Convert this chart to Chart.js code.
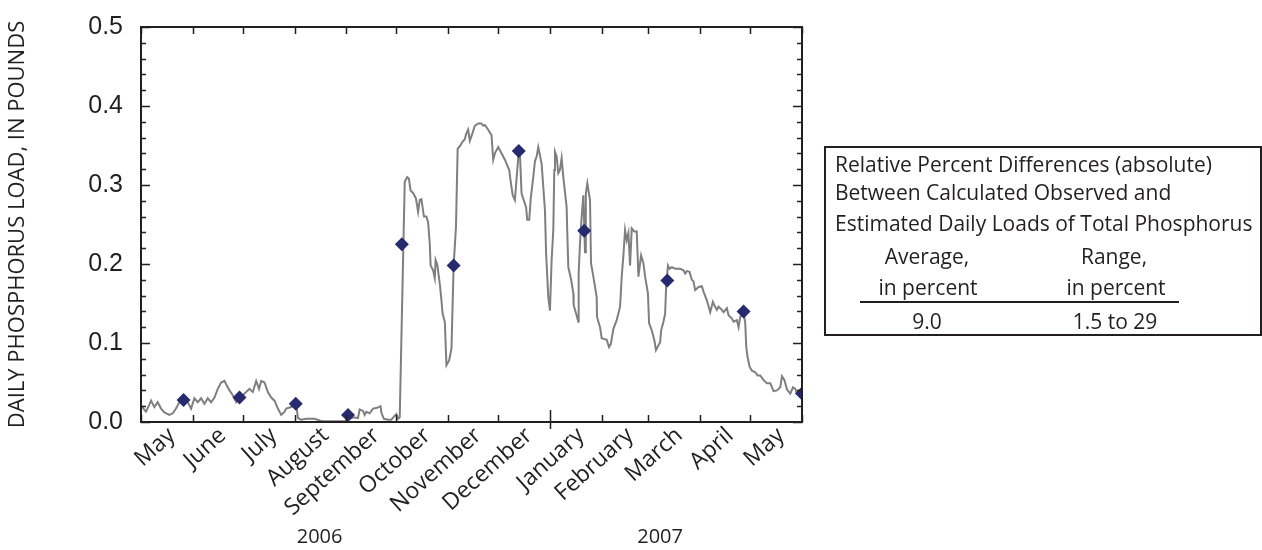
<!DOCTYPE html>
<html>
<head>
<meta charset="utf-8">
<script src="https://cdn.jsdelivr.net/npm/chart.js@4.4.1/dist/chart.umd.min.js"></script>
<style>
  body { margin: 0; background: #fff; }
  #wrap { position: relative; width: 1262px; height: 550px; }
  #note {
    position: absolute; left: 824px; top: 146px; width: 434px; height: 186px;
    border: 2px solid #231f20; font-family: "Open Sans", sans-serif; font-size: 21px; color: #231f20;
  }
  #note div { position: absolute; height: 30px; line-height: 30px; white-space: nowrap; }
  #note .c { transform: translateX(-50%); }
  #note .rule { height: 2px; background: #231f20; }
</style>
</head>
<body>
<div id="wrap">
  <canvas id="loadChart" width="1262" height="550"></canvas>
  <div id="note">
    <div style="left:9px; top:1px">Relative Percent Differences (absolute)</div>
    <div style="left:9px; top:29px">Between Calculated Observed and</div>
    <div style="left:9px; top:60px">Estimated Daily Loads of Total Phosphorus</div>
    <div class="c" style="left:101px; top:93px">Average,</div>
    <div class="c" style="left:288px; top:93px">Range,</div>
    <div class="c" style="left:102px; top:124px">in percent</div>
    <div class="c" style="left:290px; top:124px">in percent</div>
    <div class="rule" style="left:34px; top:153px; width:319px"></div>
    <div class="c" style="left:101px; top:158px">9.0</div>
    <div class="c" style="left:289px; top:158px">1.5 to 29</div>
  </div>
</div>
<script>
// days counted from May 1, 2006
const monthNames = ['May', 'June', 'July', 'August', 'September', 'October', 'November', 'December',
                    'January', 'February', 'March', 'April', 'May'];
const monthStarts = [0, 31, 61, 92, 123, 153, 184, 214, 245, 276, 304, 335, 365, 396];
const yearLabels = ['2006', '2007'];
const yearDays = [107, 311];

// estimated daily load, pounds
const estDays = [0, 1.5, 3, 5, 6, 7, 8, 10, 12, 14, 17, 19, 21, 23, 25, 26, 28, 30, 32, 34, 36, 38, 40, 42, 44,
  46, 48, 50, 51.5, 53, 55, 57, 59, 61, 63, 65, 67, 69, 70.7, 72, 74, 76, 78, 80, 82, 84, 86, 87, 90, 92, 93,
  94, 96, 99, 104, 107, 109, 122, 127, 130, 131, 133, 134, 135, 137, 139, 141.5, 143.5, 144, 145.5, 148, 150,
  152, 153, 154, 155, 158, 159.5, 160.5, 161.5, 163, 164.7, 166, 167, 168, 169.5, 171, 172, 173, 173.5, 175,
  176, 176.5, 177.5, 179, 180, 180.7, 182, 183, 184.6, 186, 187.3, 188.7, 189.7, 191, 192.7, 194, 194.7, 196,
  197, 198.5, 200, 202, 204, 205, 206, 208, 210, 211, 212, 214, 215.5, 218, 220.6, 221.5, 222.7, 224, 226.3,
  227, 228, 230.7, 231.4, 232.6, 233.5, 235, 236, 237, 238, 240, 242, 242.7, 244, 245, 246, 247, 247.6, 248,
  249, 250, 251, 252, 253, 255, 255.4, 256, 257.7, 259, 259.2, 260.7, 262, 262.2, 263, 264, 265, 266, 266.5,
  267.4, 269, 269.6, 271, 273, 273.2, 275, 276, 279, 280.4, 281.5, 283, 285, 287, 288, 289, 290, 291, 292,
  293, 294, 295.6, 297, 298, 299.6, 301, 302, 303.7, 304.4, 306, 307.6, 308.5, 311, 311.6, 313, 314, 314.6,
  315.7, 316.7, 318, 320, 323, 325, 326, 327, 328.6, 330, 331, 332, 334, 336, 337, 339, 341, 342.6, 343.4,
  345, 346, 348, 349, 351, 352, 354, 355, 357, 358, 359, 361, 362, 362.6, 363.4, 364.6, 366, 368, 369.4, 371,
  373, 375, 377, 379, 381, 383, 384, 385.5, 387, 389, 390.6, 392, 393, 395, 396];
const estLoad = [0.021, 0.017, 0.013, 0.022, 0.027, 0.023, 0.019, 0.025, 0.017, 0.012, 0.009, 0.011, 0.017,
  0.025, 0.028, 0.026, 0.025, 0.017, 0.030, 0.025, 0.030, 0.023, 0.030, 0.025, 0.031, 0.042, 0.050, 0.052,
  0.046, 0.040, 0.034, 0.025, 0.030, 0.034, 0.038, 0.042, 0.038, 0.052, 0.042, 0.052, 0.050, 0.038, 0.031,
  0.027, 0.017, 0.009, 0.013, 0.017, 0.019, 0.022, 0.023, 0.005, 0.003, 0.004, 0.004, 0.002, 0.001, 0.001,
  0.006, 0.005, 0.016, 0.014, 0.009, 0.013, 0.011, 0.017, 0.018, 0.020, 0.012, 0.004, 0.003, 0.003, 0.008,
  0.010, 0.004, 0.006, 0.304, 0.310, 0.308, 0.293, 0.290, 0.283, 0.266, 0.281, 0.282, 0.260, 0.260, 0.253,
  0.226, 0.198, 0.192, 0.182, 0.205, 0.199, 0.175, 0.154, 0.137, 0.127, 0.072, 0.078, 0.093, 0.198, 0.247,
  0.346, 0.349, 0.355, 0.358, 0.364, 0.370, 0.356, 0.365, 0.375, 0.378, 0.378, 0.375, 0.376, 0.370, 0.363,
  0.332, 0.340, 0.348, 0.342, 0.332, 0.319, 0.304, 0.287, 0.281, 0.343, 0.340, 0.289, 0.272, 0.256, 0.256,
  0.283, 0.310, 0.330, 0.336, 0.348, 0.327, 0.268, 0.213, 0.158, 0.141, 0.205, 0.243, 0.319, 0.342, 0.336,
  0.315, 0.319, 0.334, 0.310, 0.272, 0.239, 0.196, 0.180, 0.163, 0.148, 0.137, 0.127, 0.188, 0.226, 0.260,
  0.287, 0.215, 0.289, 0.302, 0.281, 0.201, 0.184, 0.158, 0.133, 0.120, 0.106, 0.104, 0.095, 0.099, 0.118,
  0.129, 0.146, 0.184, 0.211, 0.243, 0.230, 0.239, 0.198, 0.245, 0.241, 0.241, 0.184, 0.211, 0.201, 0.184,
  0.163, 0.125, 0.116, 0.103, 0.091, 0.101, 0.116, 0.127, 0.137, 0.171, 0.198, 0.194, 0.196, 0.194, 0.194,
  0.192, 0.188, 0.191, 0.190, 0.180, 0.178, 0.167, 0.171, 0.172, 0.165, 0.154, 0.139, 0.152, 0.148, 0.142,
  0.146, 0.142, 0.139, 0.144, 0.135, 0.131, 0.127, 0.129, 0.120, 0.133, 0.139, 0.125, 0.095, 0.082, 0.070,
  0.065, 0.063, 0.059, 0.059, 0.053, 0.049, 0.049, 0.039, 0.040, 0.044, 0.058, 0.053, 0.041, 0.036, 0.044,
  0.042, 0.036, 0.034, 0.036];

// calculated observed loads
const obsDays = [25.5, 59, 92.7, 124, 156.3, 187.3, 226.3, 265.5, 315.3, 361, 396];
const obsLoad = [0.028, 0.031, 0.023, 0.009, 0.225, 0.198, 0.343, 0.242, 0.179, 0.140, 0.036];

const ink = '#231f20';
const monthMids = monthNames.map((m, i) => (monthStarts[i] + monthStarts[i + 1]) / 2);

// frame, inward tick marks and year labels
const framePlugin = {
  id: 'frame',
  afterDraw(chart) {
    const { ctx, chartArea: a, scales: { x, y } } = chart;
    ctx.save();
    ctx.strokeStyle = ink;
    ctx.lineWidth = 2;
    ctx.strokeRect(a.left, a.top, a.right - a.left, a.bottom - a.top);
    ctx.lineWidth = 1.5;
    ctx.beginPath();
    for (let v = 0; v <= 0.5001; v += 0.02) {
      const py = Math.round(y.getPixelForValue(v)) + 0.5;
      const len = Math.abs(v * 10 - Math.round(v * 10)) < 1e-6 ? 9 : 5;
      ctx.moveTo(a.left, py); ctx.lineTo(a.left + len, py);
      ctx.moveTo(a.right, py); ctx.lineTo(a.right - len, py);
    }
    monthStarts.forEach((d, i) => {
      const px = Math.round(x.getPixelForValue(d)) + 0.5;
      ctx.moveTo(px, a.top); ctx.lineTo(px, a.top + 7);
      ctx.moveTo(px, a.bottom); ctx.lineTo(px, a.bottom - (i === 8 ? 12 : 7));
      if (i === 8) { ctx.moveTo(px, a.bottom); ctx.lineTo(px, a.bottom + 7); }
    });
    ctx.stroke();
    ctx.fillStyle = ink;
    ctx.font = '20px "Open Sans", sans-serif';
    ctx.textAlign = 'center';
    ctx.textBaseline = 'middle';
    yearLabels.forEach((t, i) => ctx.fillText(t, x.getPixelForValue(yearDays[i]), 537));
    ctx.restore();
  }
};

new Chart(document.getElementById('loadChart'), {
  type: 'scatter',
  data: {
    datasets: [{
      label: 'Calculated observed',
      data: obsDays.map((d, i) => ({ x: d, y: obsLoad[i] })),
      pointStyle: 'rectRot',
      pointRadius: 7,
      pointBackgroundColor: '#262a6f',
      pointBorderWidth: 0,
      showLine: false
    }, {
      label: 'Estimated',
      data: estDays.map((d, i) => ({ x: d, y: estLoad[i] })),
      showLine: true,
      borderColor: '#7f7f7f',
      borderWidth: 2,
      pointRadius: 0,
      tension: 0
    }]
  },
  options: {
    responsive: false,
    animation: false,
    layout: { padding: { top: 27, right: 460, bottom: 0, left: 0 } },
    plugins: { legend: { display: false }, tooltip: { enabled: false } },
    scales: {
      x: {
        type: 'linear',
        min: 0,
        max: 396,
        grid: { display: false, drawTicks: false },
        border: { display: false },
        afterBuildTicks: s => { s.ticks = monthMids.map(v => ({ value: v })); },
        afterFit: s => { s.height = 128; },
        ticks: {
          autoSkip: false,
          minRotation: 42,
          maxRotation: 42,
          padding: 0,
          labelOffset: 5,
          color: ink,
          font: { family: '"Open Sans", sans-serif', size: 23 },
          callback: (v, i) => monthNames[i]
        }
      },
      y: {
        min: 0,
        max: 0.5,
        grid: { display: false, drawTicks: false },
        border: { display: false },
        afterFit: s => { s.width = 141; s.paddingTop = 0; s.paddingBottom = 0; },
        ticks: {
          stepSize: 0.1,
          padding: 18,
          color: ink,
          font: { family: '"Liberation Sans", Arial, sans-serif', size: 25 },
          callback: v => v.toFixed(1)
        },
        title: {
          display: true,
          text: 'DAILY PHOSPHORUS LOAD, IN POUNDS',
          color: ink,
          padding: { top: 5, bottom: 0 },
          font: { family: '"Open Sans", sans-serif', size: 22 }
        }
      }
    }
  },
  plugins: [framePlugin]
});
</script>
</body>
</html>
